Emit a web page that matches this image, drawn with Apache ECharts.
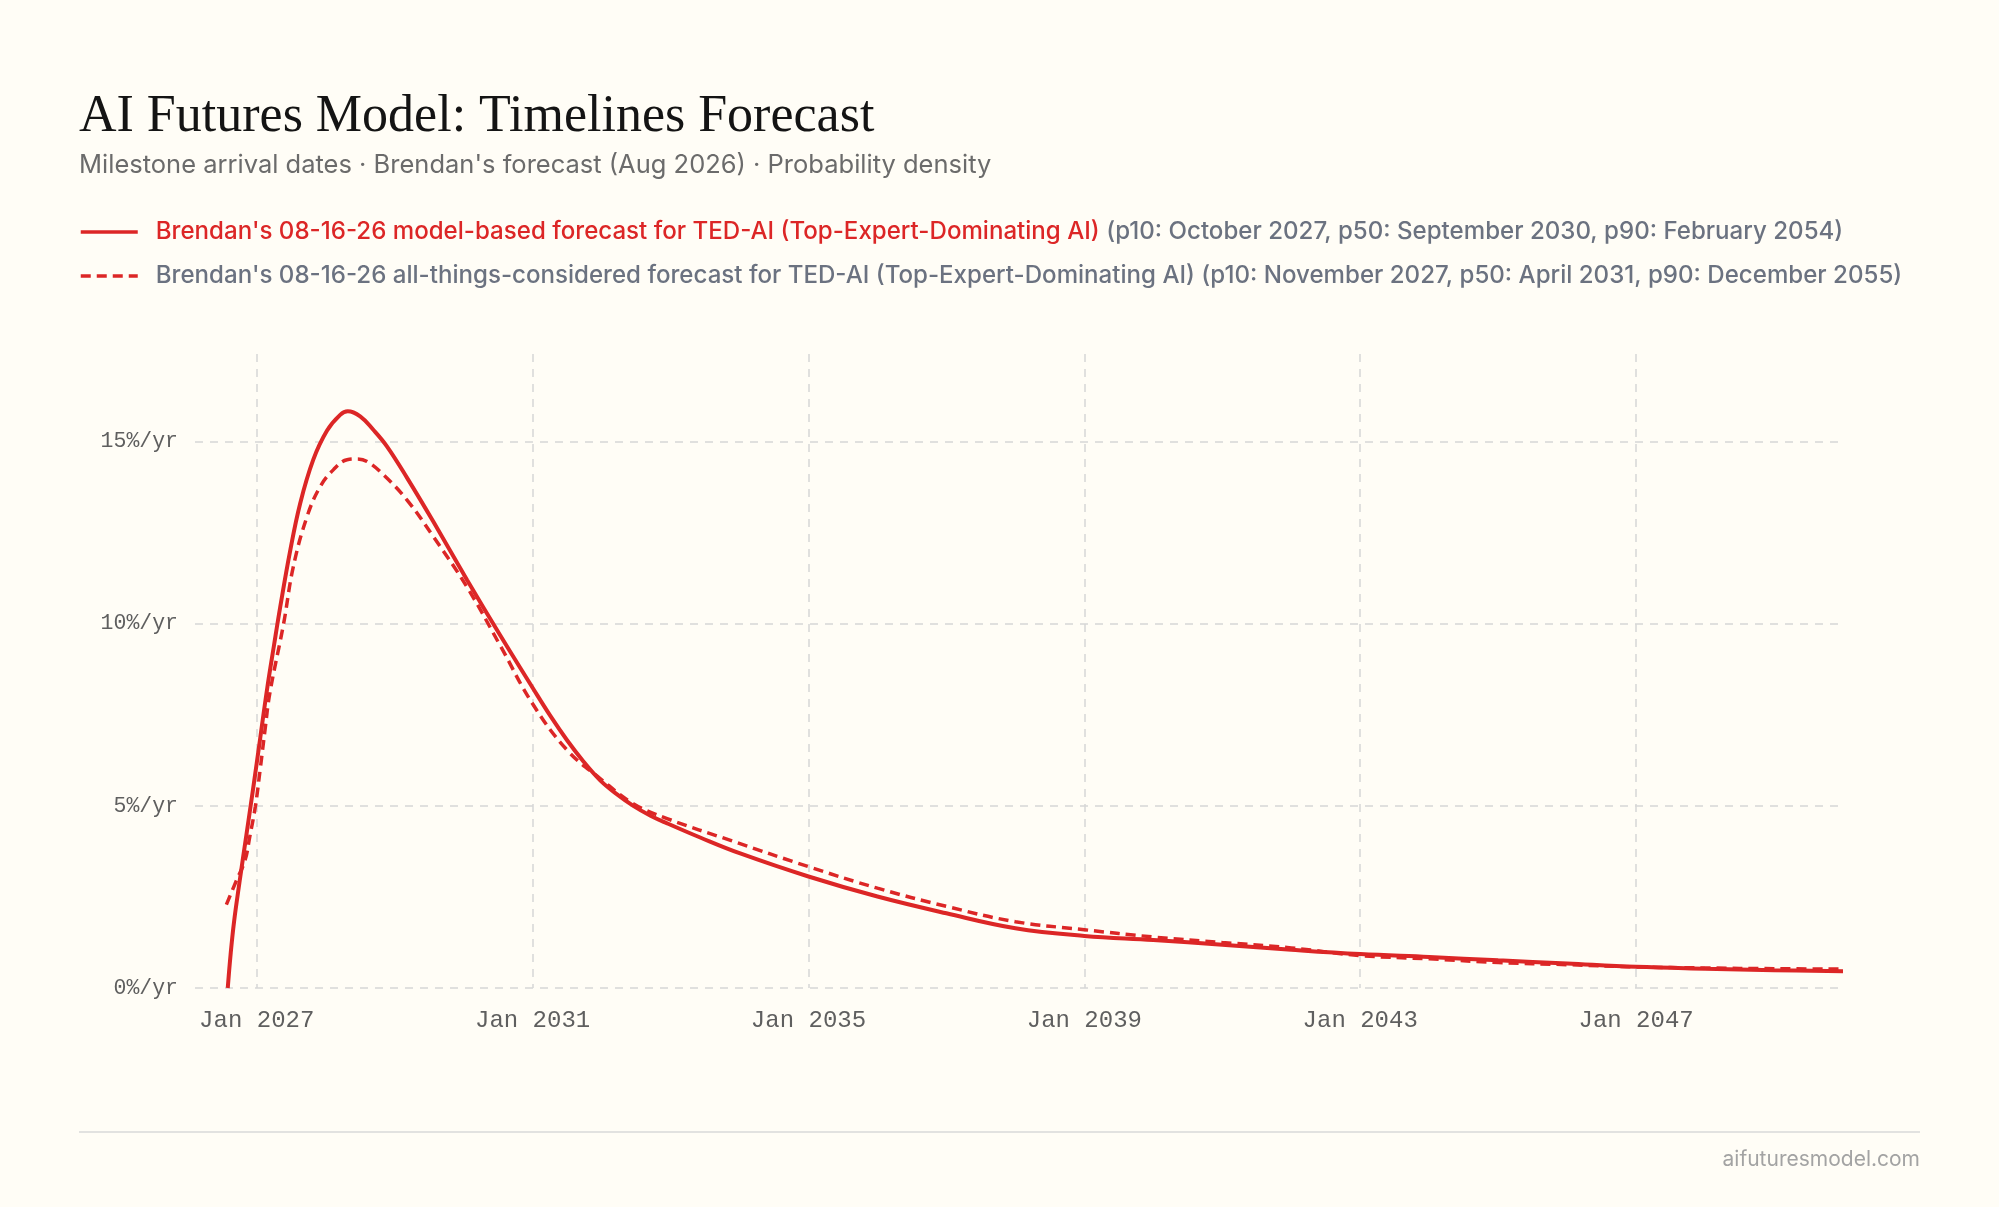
<!DOCTYPE html>
<html>
<head>
<meta charset="utf-8">
<title>AI Futures Model: Timelines Forecast</title>
<script src="https://cdn.jsdelivr.net/npm/echarts@6/dist/echarts.min.js"></script>
<style>
  html, body { margin: 0; padding: 0; background: #fffdf6; }
  #chart { width: 1999px; height: 1207px; }
</style>
</head>
<body>
<div id="chart"></div>
<script>
// model-based forecast (solid), year as decimal, density in %/yr
const modelYears = [2026.58, 2026.62, 2026.67, 2026.75, 2026.85, 2026.95, 2027.05, 2027.15, 2027.25, 2027.34,
  2027.48, 2027.63, 2027.82, 2028.02, 2028.21, 2028.32, 2028.50, 2028.69, 2028.89, 2029.18,
  2029.56, 2030.05, 2030.53, 2031.0, 2031.26, 2031.5, 2031.74, 2031.98, 2032.22, 2032.46,
  2032.71, 2032.95, 2033.43, 2034, 2035, 2036, 2037, 2038, 2039, 2040,
  2041, 2042, 2043, 2044, 2045, 2046, 2047, 2048, 2049, 2050];
const modelDensity = [0, 0.9, 1.8, 2.9, 4.2, 5.5, 6.85, 8.2, 9.4, 10.45,
  11.95, 13.3, 14.5, 15.3, 15.73, 15.83, 15.69, 15.32, 14.86, 14.0,
  12.8, 11.2, 9.68, 8.24, 7.46, 6.8, 6.21, 5.70, 5.32, 5.0,
  4.73, 4.52, 4.13, 3.70, 3.06, 2.51, 2.05, 1.64, 1.43, 1.32,
  1.19, 1.05, 0.93, 0.85, 0.76, 0.67, 0.58, 0.53, 0.49, 0.46];

// all-things-considered forecast (dashed)
const atcYears = [2026.56, 2026.71, 2026.83, 2026.90, 2026.98, 2027.05, 2027.12, 2027.19, 2027.39, 2027.53,
  2027.73, 2027.92, 2028.11, 2028.31, 2028.45, 2028.60, 2028.84, 2029.18, 2029.56, 2030.05,
  2030.53, 2031.0, 2031.5, 2031.98, 2032.46, 2032.95, 2033.87, 2035, 2036, 2037,
  2038, 2039, 2040, 2041, 2042, 2043, 2044, 2045, 2046, 2047,
  2048, 2049, 2050];
const atcDensity = [2.29, 2.97, 3.5, 4.16, 4.98, 6.0, 7.08, 8.09, 10.0, 11.56,
  12.94, 13.76, 14.22, 14.5, 14.52, 14.45, 14.08, 13.39, 12.39, 11.0,
  9.4, 7.8, 6.53, 5.75, 5.06, 4.65, 4.05, 3.33, 2.74, 2.24,
  1.82, 1.60, 1.40, 1.25, 1.1, 0.89, 0.80, 0.70, 0.64, 0.58,
  0.55, 0.53, 0.52];

const seriesNames = [
  "Brendan's 08-16-26 model-based forecast for TED-AI (Top-Expert-Dominating AI)",
  "Brendan's 08-16-26 all-things-considered forecast for TED-AI (Top-Expert-Dominating AI)",
];
const seriesNotes = [
  '(p10: October 2027, p50: September 2030, p90: February 2054)',
  '(p10: November 2027, p50: April 2031, p90: December 2055)',
];

const xTicks = [2027, 2031, 2035, 2039, 2043, 2047];
const yTicks = [0, 5, 10, 15];

const red = '#dc2626';
const slate = '#6b7280';
const mono = "'Liberation Mono', monospace";
const sans = 'Inter, sans-serif';

const pairs = (xs, ys) => xs.map((x, i) => [x, ys[i]]);

const gridLine = {
  show: true,
  lineStyle: { color: '#d6d6d6', width: 1.5, type: [8, 7] },
};

const chart = echarts.init(document.getElementById('chart'));
chart.setOption({
  backgroundColor: '#fffdf6',
  animation: false,
  title: [
    {
      text: 'AI Futures Model: Timelines Forecast',
      left: 79,
      top: 91,
      padding: 0,
      textStyle: { fontFamily: "'Liberation Serif', serif", fontSize: 52, fontWeight: 'normal', color: '#141414' },
    },
    {
      text: "Milestone arrival dates · Brendan's forecast (Aug 2026) · Probability density",
      left: 79,
      top: 152,
      padding: 0,
      textStyle: { fontFamily: sans, fontSize: 25.5, fontWeight: 'normal', color: '#6b6b6b' },
    },
    {
      text: 'aifuturesmodel.com',
      right: 79,
      top: 1149,
      padding: 0,
      textStyle: { fontFamily: sans, fontSize: 21, fontWeight: 'normal', color: '#a3a3a3' },
    },
  ],
  graphic: [
    {
      type: 'line',
      shape: { x1: 79, y1: 1132, x2: 1920, y2: 1132 },
      style: { stroke: '#d9d9d9', lineWidth: 1.5 },
    },
  ],
  legend: {
    orient: 'vertical',
    left: 79,
    top: 217,
    padding: 0,
    itemWidth: 57,
    itemHeight: 14,
    itemGap: 14,
    selectedMode: false,
    data: seriesNames,
    itemStyle: { color: 'rgba(0,0,0,0)', borderWidth: 0, opacity: 0 },
    lineStyle: { width: 3.5 },
    formatter: (name) => {
      const i = seriesNames.indexOf(name);
      return i === 0 ? `{r|${name}} {g|${seriesNotes[i]}}` : `{g|${name} ${seriesNotes[i]}}`;
    },
    textStyle: {
      fontFamily: sans,
      fontSize: 24.1,
      fontWeight: 500,
      padding: [0, 0, 0, 13],
      lineHeight: 30,
      rich: {
        r: { color: red, fontFamily: sans, fontSize: 24.1, fontWeight: 500, lineHeight: 30 },
        g: { color: slate, fontFamily: sans, fontSize: 24.1, fontWeight: 500, lineHeight: 30 },
      },
    },
  },
  grid: { left: 195, right: 156, top: 354, bottom: 219, containLabel: false },
  xAxis: {
    type: 'value',
    min: 2026.105,
    max: 2050,
    axisLine: { show: false },
    axisTick: { show: false, customValues: xTicks },
    axisLabel: {
      customValues: xTicks,
      formatter: (v) => 'Jan ' + v,
      fontFamily: mono,
      fontSize: 24,
      color: '#5f5f5f',
      margin: 21,
    },
    splitLine: gridLine,
  },
  yAxis: {
    type: 'value',
    min: 0,
    max: 17.4,
    axisLine: { show: false },
    axisTick: { show: false, customValues: yTicks },
    axisLabel: {
      customValues: yTicks,
      formatter: '{value}%/yr',
      fontFamily: mono,
      fontSize: 21.5,
      color: '#5f5f5f',
      margin: 17,
    },
    splitLine: gridLine,
  },
  series: [
    {
      name: seriesNames[0],
      type: 'line',
      symbol: 'none',
      smooth: 0.4,
      lineStyle: { color: red, width: 4 },
      itemStyle: { color: red },
      data: pairs(modelYears, modelDensity),
    },
    {
      name: seriesNames[1],
      type: 'line',
      symbol: 'none',
      smooth: 0.4,
      lineStyle: { color: red, width: 3.5, type: [10, 6] },
      itemStyle: { color: red },
      data: pairs(atcYears, atcDensity),
    },
  ],
});
</script>
</body>
</html>
